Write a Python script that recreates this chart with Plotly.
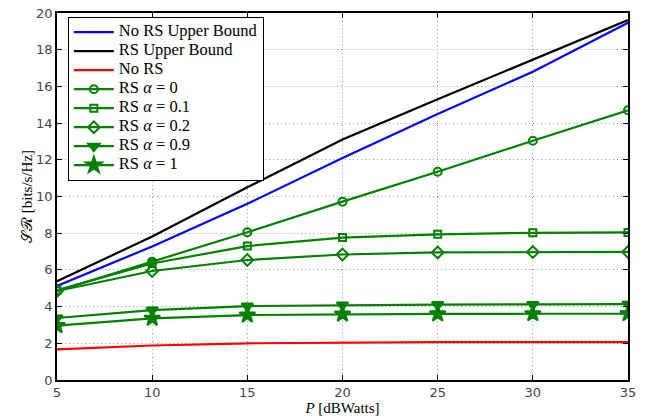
import plotly.graph_objects as go

P = [5, 10, 15, 20, 25, 30, 35]
no_rs_ub = [5.12, 7.28, 9.6, 12.1, 14.5, 16.8, 19.47]
rs_ub = [5.38, 7.82, 10.5, 13.1, 15.3, 17.44, 19.62]
no_rs = [1.67, 1.88, 2.0, 2.05, 2.06, 2.06, 2.06]
rs_a0 = [4.85, 6.45, 8.05, 9.72, 11.35, 13.04, 14.7]
rs_a01 = [4.9, 6.35, 7.3, 7.76, 7.94, 8.02, 8.04]
rs_a02 = [4.85, 5.94, 6.54, 6.84, 6.95, 6.97, 6.98]
rs_a09 = [3.38, 3.81, 4.03, 4.09, 4.11, 4.12, 4.13]
rs_a1 = [2.96, 3.36, 3.54, 3.59, 3.6, 3.61, 3.61]

green = "#008000"
serif = "serif"


def lg(t):
    return '<span style="font-size:16.5px">' + t + '</span>'


fig = go.Figure()
fig.add_trace(go.Scatter(x=P, y=no_rs_ub, mode="lines", name=lg("No RS Upper Bound"),
                         line=dict(color="#0000ff", width=2.2)))
fig.add_trace(go.Scatter(x=P, y=rs_ub, mode="lines", name=lg("RS Upper Bound"),
                         line=dict(color="#000000", width=2.2)))
fig.add_trace(go.Scatter(x=P, y=no_rs, mode="lines", name=lg("No RS"),
                         line=dict(color="#ff0000", width=2.2)))
series = [
    (rs_a0, "RS <i>α</i> = 0", "circle-open", 8),
    (rs_a01, "RS <i>α</i> = 0.1", "square-open", 7),
    (rs_a02, "RS <i>α</i> = 0.2", "diamond-open", 9),
    (rs_a09, "RS <i>α</i> = 0.9", "triangle-down", 10),
    (rs_a1, "RS <i>α</i> = 1", "star", 12),
]
for y, name, sym, sz in series:
    fig.add_trace(go.Scatter(x=P, y=y, mode="lines+markers", name=lg(name),
                             line=dict(color=green, width=2.2),
                             marker=dict(symbol=sym, size=sz, color=green,
                                         line=dict(color=green, width=2))))

axis_common = dict(showline=True, linecolor="black", linewidth=1.5, mirror="ticks",
                   ticks="inside", ticklen=5, tickcolor="black",
                   showgrid=True, gridcolor="#999999", griddash="1px,3px", gridwidth=1,
                   zeroline=False, automargin=False,
                   tickfont=dict(family="DejaVu Sans", size=13, color="#444"))
fig.update_xaxes(range=[5, 35], dtick=5, **axis_common,
                 title=dict(text="<i>P</i> [dBWatts]", standoff=0,
                            font=dict(family=serif, size=15, color="black")))
fig.update_yaxes(range=[0, 20], dtick=2, **axis_common,
                 title=dict(text="𝒮ℛ [bits/s/Hz]", standoff=0,
                            font=dict(family=serif, size=15, color="black")))
fig.update_layout(
    width=647, height=417,
    margin=dict(l=57, r=19, t=13, b=37, autoexpand=False),
    plot_bgcolor="white", paper_bgcolor="white",
    legend=dict(x=0.019, y=0.99, xanchor="left", yanchor="top",
                bgcolor="white", bordercolor="black", borderwidth=1,
                font=dict(family=serif, size=10.5, color="black"),
                tracegroupgap=0, itemwidth=40),
    showlegend=True,
)
fig.write_html("out.html", config={"displayModeBar": False},
               post_script="document.body.style.margin='0';")
